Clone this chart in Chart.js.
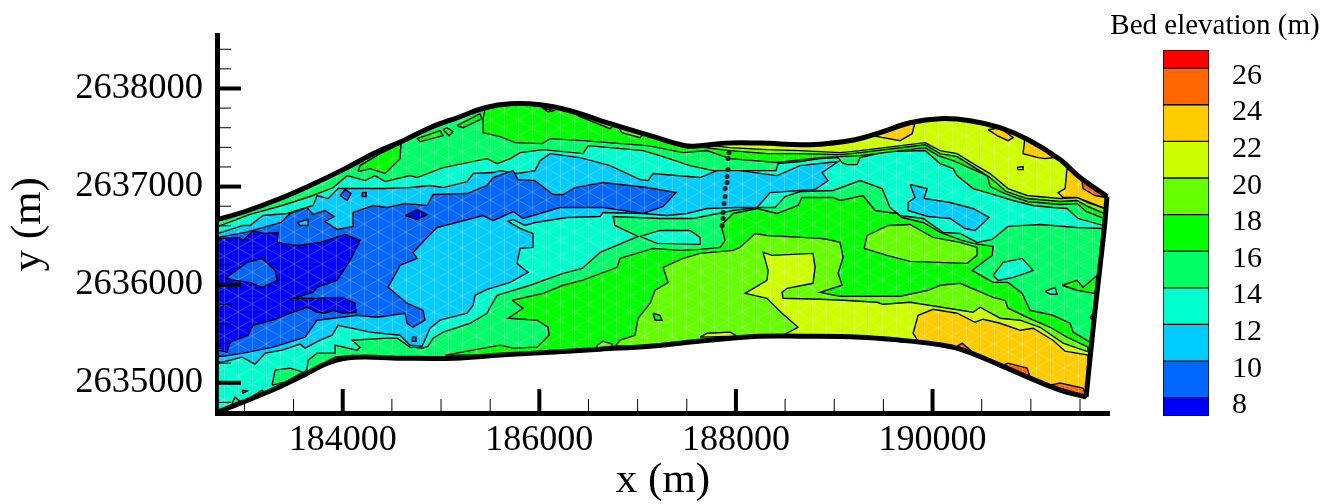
<!DOCTYPE html>
<html>
<head>
<meta charset="utf-8">
<title>Bed elevation</title>
<script src="https://cdn.jsdelivr.net/npm/chart.js@4/dist/chart.umd.min.js"></script>
<style>
  body { margin: 0; background: #fff; }
  #wrap { position: relative; width: 1340px; height: 504px; overflow: hidden; }
  #mapChart { position: absolute; left: 0; top: 0; }
  #barChart { position: absolute; left: 1095px; top: 0; }
</style>
</head>
<body>
<div id="wrap">
  <canvas id="mapChart" width="1340" height="504"></canvas>
  <canvas id="barChart" width="240" height="430"></canvas>
</div>
<script>
// ===== Axis ticks =====
const xMajorTicks = [184000, 186000, 188000, 190000];
const xMinorTicks = [183000, 183500, 184500, 185000, 185500, 186500, 187000, 187500, 188500, 189000, 189500, 190500, 191000, 191500];
const yMajorTicks = [2635000, 2636000, 2637000, 2638000];
const yMinorTicks = [2634800, 2635200, 2635400, 2635600, 2635800, 2636200, 2636400, 2636600, 2636800, 2637200, 2637400, 2637600, 2637800, 2638200, 2638400];

// ===== Colour bar =====
const bandEdges = [7, 8, 10, 12, 14, 16, 18, 20, 22, 24, 26, 27];
const bandColors = ['#0000ff', '#0066ff', '#00ccff', '#00ffcc', '#00ff66', '#00ff00', '#66ff00', '#ccff00', '#ffcc00', '#ff6600', '#ff0000'];
const bandLabels = [8, 10, 12, 14, 16, 18, 20, 22, 24, 26];
const [c8, c10, c12, c14, c16, c18, c20, c22, c24, c26] = bandColors;

// ===== Model domain, x/y in metres =====
const domainOutline = [
  [182732,2636665],[183007,2636746],[183363,2636878],[183668,2637011],[184024,2637183],[184329,2637346],[184614,2637468],[184888,2637600],
  [185193,2637712],[185448,2637804],[185703,2637844],[186008,2637834],[186313,2637773],[186720,2637641],[187127,2637519],[187483,2637417],
  [187635,2637417],[187889,2637443],[188245,2637443],[188754,2637427],[189212,2637478],[189466,2637550],[189771,2637651],[190077,2637692],
  [190382,2637672],[190687,2637600],[190992,2637468],[191297,2637275],[191501,2637092],[191775,2636899],
  [191745,2636553],[191653,2635739],[191562,2634855],
  [191297,2634926],[190992,2635048],[190687,2635180],[190280,2635343],[190026,2635394],[189670,2635434],[189263,2635465],[188652,2635475],
  [188245,2635475],[187839,2635444],[187432,2635404],[187127,2635373],[186618,2635343],[186110,2635312],[185601,2635282],[185143,2635251],
  [184583,2635251],[184125,2635261],[183871,2635210],[183566,2635058],[183261,2634916],[182732,2634702]
];
const along = (from, to) => domainOutline.slice(from, to + 1);

// ===== Contour regions, painted lowest layer first =====
const region14Main = [
  [182732,2636594],[183057,2636716],[183383,2636807],[183668,2636899],[183902,2636990],[184045,2637112],[184227,2637061],[184329,2637112],
  [184431,2637051],[184685,2637112],[184756,2637092],[185021,2637194],[185468,2637285],[185570,2637234],[185703,2637285],[185804,2637346],
  [186038,2637377],[186445,2637336],[186496,2637417],[186720,2637397],[187055,2637367],[187228,2637316],[187533,2637214],[187767,2637163],
  [188408,2637163],[188428,2637234],[188652,2637255],[188856,2637285],[189039,2637295],[189080,2637244],[189130,2637224],[189232,2637224],
  [189263,2637295],[189537,2637356],[189924,2637367],[190077,2637234],[190209,2637184],[190250,2637112],[190412,2636980],[190555,2636939],
  [190820,2636858],[191023,2636807],[191226,2636787],[191368,2636777],[191480,2636675],[191735,2636604],
  [191735,2636573],[191470,2636583],[191094,2636614],[190768,2636594],[190606,2636461],[190453,2636431],[190280,2636522],[190107,2636533],
  [189904,2636675],[189670,2636705],[189568,2636787],[189487,2636980],[189263,2637061],[188988,2636960],[188652,2636950],[188500,2636899],
  [188398,2636787],[188215,2636787],[187971,2636756],[187564,2636675],[187228,2636675],[186750,2636695],[186770,2636604],[187004,2636492],
  [186618,2636329],[186435,2636166],[186241,2636116],[185906,2635994],[185601,2635902],[185570,2635892],[185499,2635770],[185468,2635709],
  [185295,2635607],[185021,2635516],[184919,2635455],[184868,2635373],[184817,2635353],[184685,2635363],[184553,2635455],[184451,2635455],
  [184095,2635434],[184176,2635363],[184146,2635333],[183922,2635384],[183922,2635302],[183739,2635302],[183647,2635231],[183637,2635140],
  ...along(52, 54)
];
const region14BlobA = [[187025,2636492],[187228,2636553],[187533,2636553],[187635,2636482],[187635,2636411],[187198,2636421]];
const region14BlobB = [[190616,2636095],[190718,2636227],[190911,2636268],[191023,2636146],[190941,2636116],[190820,2636075],[190667,2636044]];
const region14BlobC = [[191145,2635933],[191246,2635973],[191267,2635902],[191196,2635902]];

const region16PatchA = [[183281,2634976],[183312,2635129],[183464,2635149],[183596,2635109],[183413,2635007]];
const region16PatchB = [[182874,2634793],[182905,2634854],[182976,2634793],[183180,2634926],[183200,2634905],[182915,2634763]];
const region16PatchC = [[182976,2634926],[183027,2634916],[182986,2634895]];

const region18StripA = [[184156,2637153],[184176,2637214],[184380,2637336],[184593,2637438],[184583,2637285],[184431,2637133],[184278,2637183]];
const region18StripB = [[184756,2637489],[184990,2637570],[185021,2637519],[184787,2637458]];
const region18StripC = [[185021,2637580],[185082,2637519],[185122,2637560],[185062,2637600]];
const region18StripD = [[185163,2637621],[185397,2637743],[185417,2637692],[185224,2637600]];
const region18StripE = [[183841,2635220],[183922,2635261],[184105,2635282],[184125,2635261],[183871,2635210]];

const region12Main = [
  [182732,2636523],[182986,2636604],[183057,2636604],[183190,2636705],[183434,2636726],[183698,2636807],[183739,2636909],[183851,2636878],
  [183953,2636980],[184411,2636980],[184685,2636990],[184888,2637011],[185021,2636990],[185265,2637051],[185326,2637133],[185529,2637143],
  [185601,2637163],[185773,2637133],[185956,2637163],[186008,2637265],[186110,2637336],[186415,2637295],[186720,2637214],[187025,2637072],
  [187106,2637061],[187157,2637133],[187635,2637092],[187808,2637163],[188042,2637163],[188418,2637112],[188652,2637214],[189039,2637255],
  [188876,2637143],[188937,2637061],[188805,2636970],[188652,2636960],[188347,2636939],[188215,2636787],[188012,2636787],[187706,2636777],
  [187503,2636726],[187299,2636705],[187055,2636726],[186648,2636736],[186618,2636695],[186282,2636685],[185956,2636634],[185855,2636604],
  [185733,2636665],[185682,2636645],[185804,2636573],[185936,2636522],[185936,2636380],[185804,2636370],[185773,2636217],[185885,2636126],
  [185703,2636024],[185468,2635953],[185346,2635892],[185326,2635790],[185265,2635709],[184990,2635638],[184888,2635556],[184807,2635373],
  [184685,2635383],[184583,2635485],[184278,2635516],[183953,2635587],[183892,2635485],[183769,2635434],[183617,2635353],[183566,2635394],
  [183383,2635333],[183210,2635302],[183108,2635190],[182976,2635261],[182772,2635210],[182732,2635210]
];
const region12East = [
  [189771,2637021],[189944,2636980],[189914,2636878],[190178,2636838],[190412,2636777],[190575,2636685],[190433,2636553],[190331,2636573],
  [190178,2636675],[189955,2636695],[189751,2636756],[189751,2636838],[189822,2636888]
];

const region10Main = [
  [182732,2636482],[183007,2636533],[183373,2636634],[183464,2636726],[183637,2636787],[183698,2636716],[183820,2636756],[183912,2636695],
  [183820,2636644],[183942,2636563],[184105,2636594],[184105,2636736],[184308,2636807],[184451,2636787],[184634,2636827],[184858,2636807],
  [184919,2636919],[185265,2636929],[185468,2637011],[185529,2637092],[185733,2637163],[185784,2637072],[185956,2637061],[186140,2636919],
  [186241,2636919],[186363,2636990],[186648,2637041],[187096,2636990],[187391,2636939],[187259,2636797],[187055,2636726],[186648,2636787],
  [186211,2636787],[185834,2636675],[185733,2636746],[185601,2636685],[185529,2636655],[185428,2636705],[184960,2636583],[184858,2636482],
  [184715,2636329],[184756,2636268],[184583,2636197],[184461,2635973],[184654,2635811],[184817,2635739],[184837,2635638],[184715,2635566],
  [184654,2635607],[184634,2635709],[184349,2635668],[184146,2635689],[183739,2635638],[183617,2635465],[183291,2635363],[182986,2635302],
  [182782,2635271],[182732,2635271]
];
const region10DotA = [[183973,2636909],[184024,2636970],[184085,2636929],[184045,2636858]];
const region10DotB = [[184197,2636939],[184237,2636939],[184237,2636899],[184197,2636899]];
const region10DotC = [[184705,2635465],[184746,2635465],[184746,2635424],[184705,2635424]];
const region12Islet = [[183536,2636634],[183647,2636665],[183647,2636604],[183566,2636604]];

const region8Main = [
  [182732,2636472],[182956,2636482],[182986,2636451],[183088,2636553],[183190,2636522],[183342,2636533],[183332,2636431],[183536,2636400],
  [183769,2636431],[184024,2636512],[184176,2636451],[184075,2636248],[183942,2636044],[183739,2635973],[183698,2635922],[183495,2635861],
  [183698,2635861],[183993,2635871],[184125,2635811],[184136,2635719],[184003,2635709],[183902,2635739],[183820,2635709],[183739,2635719],
  [183637,2635770],[183464,2635709],[183291,2635638],[183088,2635587],[183037,2635485],[182854,2635414],[182823,2635312],[182732,2635333]
];
const region8Small = [[184634,2636705],[184756,2636766],[184858,2636716],[184756,2636665]];
const region10Island = [[182803,2636065],[183027,2636227],[183180,2636268],[183312,2636146],[183332,2636044],[183180,2635973],[183057,2636024],[182905,2636044]];

const region18Main = [
  [185723,2635841],[186038,2635912],[186241,2635994],[186435,2636044],[186791,2636177],[186821,2636268],[187157,2636370],[187432,2636350],
  [187635,2636360],[187839,2636380],[187889,2636451],[187849,2636604],[187971,2636726],[188215,2636777],[188418,2636726],[188632,2636807],
  [188672,2636889],[188988,2636889],[189059,2636858],[189293,2636909],[189415,2636756],[189639,2636726],[189690,2636685],[189904,2636634],
  [190077,2636533],[190301,2636451],[190412,2636421],[190616,2636390],[190606,2636299],[190402,2636146],[190616,2636024],[190768,2636024],
  [190911,2635912],[190992,2635739],[191226,2635688],[191399,2635607],[191430,2635516],[191602,2635414],
  ...along(32, 47),
  [185041,2635282],[185601,2635384],[185733,2635353],[185977,2635363],[186099,2635485],[186089,2635566],[185977,2635638],[185682,2635658],[185834,2635760]
];
const region18Top = [
  ...along(9, 29),
  [191745,2636675],[191562,2636746],[191470,2636827],[191297,2636817],[190962,2636848],[190738,2636929],[190585,2637000],[190555,2637112],
  [190209,2637265],[190057,2637316],[189924,2637397],[189263,2637316],[189059,2637305],[188856,2637295],[188418,2637245],[187940,2637285],
  [187706,2637367],[187462,2637346],[187208,2637397],[187096,2637417],[186445,2637468],[186110,2637489],[186028,2637438],[185753,2637448],
  [185601,2637509],[185428,2637550],[185428,2637692]
];
const region18RightA = [[191318,2635994],[191470,2636044],[191531,2635973],[191674,2636095],[191653,2635912],[191470,2635943]];
const region18RightB = [[191602,2635658],[191633,2635709],[191633,2635648]];

const region20Main = [
  [186770,2635373],[186821,2635434],[186974,2635485],[187004,2635658],[187127,2635811],[187177,2635943],[187310,2636024],[187259,2636177],
  [187462,2636268],[187635,2636319],[187971,2636350],[188042,2636380],[188195,2636522],[188316,2636502],[188856,2636472],[188937,2636461],
  [189059,2636431],[189090,2636278],[189039,2636116],[189080,2635994],[188856,2635922],[189059,2635882],[189670,2635882],[189955,2635943],
  [190077,2635994],[190280,2636014],[190616,2635871],[190738,2635841],[190768,2635760],[190962,2635668],[191196,2635566],[191368,2635465],[191582,2635363],
  ...along(32, 44)
];
const region20Top = [
  ...along(17, 29),
  [191745,2636726],[191582,2636797],[191470,2636858],[191297,2636848],[190962,2636878],[190748,2636950],[190585,2637092],[190412,2637204],
  [190250,2637305],[190077,2637336],[189924,2637427],[189263,2637346],[189059,2637326],[188652,2637336],[188316,2637336],[187940,2637367],[187686,2637397]
];
const region20Island = [[189304,2636370],[189334,2636502],[189548,2636604],[189771,2636614],[190005,2636482],[190280,2636431],[190453,2636380],[190453,2636299],[190351,2636217],[189771,2636238],[189537,2636299]];
const region20SmallA = [[186394,2637722],[186720,2637590],[186770,2637641],[186516,2637712]];
const region20SmallB = [[186791,2637621],[186842,2637550],[187025,2637499],[187055,2637539]];
const region20SmallC = [[186028,2637804],[186140,2637773],[186089,2637763]];
const region20SmallD = [[186587,2635383],[186648,2635424],[186740,2635394],[186740,2635353],[186587,2635343]];
const region18Hole = [[187157,2635709],[187228,2635688],[187248,2635638],[187177,2635638]];

const region22Main = [
  [188479,2635485],[188632,2635566],[188469,2635709],[188316,2635861],[188093,2635912],[188316,2636044],[188327,2636146],[188276,2636329],
  [188367,2636299],[188784,2636319],[188805,2636177],[188784,2636014],[188520,2635963],[188469,2635922],[188479,2635861],[188856,2635851],
  [189090,2635841],[189436,2635821],[189497,2635800],[189771,2635821],[190412,2635719],[190484,2635770],[190687,2635658],[190890,2635638],
  [191094,2635566],[191328,2635404],[191592,2635312],
  ...along(32, 40)
];
const region22Top = [
  ...along(17, 29),
  [191755,2636777],[191582,2636838],[191470,2636889],[191297,2636878],[190962,2636909],[190768,2636980],[190585,2637133],[190412,2637234],
  [190250,2637336],[190077,2637367],[189924,2637448],[189263,2637366],[189059,2637346],[188652,2637367],[188316,2637377],[187940,2637397],[187757,2637417]
];
const region22Small = [[187635,2635465],[187706,2635505],[187940,2635516],[188012,2635475]];

const region24Main = [
  [189802,2635505],[189853,2635688],[190005,2635749],[190250,2635709],[190433,2635617],[190514,2635648],[190687,2635607],[190890,2635536],
  [191023,2635556],[191226,2635434],[191348,2635322],[191582,2635282],
  ...along(32, 37),
  [189853,2635424]
];
const region24TopA = [[189385,2637519],[189670,2637468],[189792,2637539],[189822,2637651],[189619,2637600]];
const region24TopB = [[190565,2637580],[190657,2637519],[190768,2637468],[190820,2637499],[190687,2637600]];
const region24TopC = [[190941,2637509],[190921,2637336],[191074,2637295],[191145,2637285],[191226,2637295],[191094,2637407]];
const region24Corner = [[191368,2637184],[191348,2636980],[191277,2636939],[191328,2636889],[191470,2636889],[191755,2636777],[191775,2636899],[191501,2637092]];
const region24Dot = [[190860,2637194],[190921,2637204],[190921,2637173],[190870,2637173]];

const region26Corner = [[191521,2637061],[191531,2636980],[191653,2636909],[191765,2636888],[191633,2637011]];
const region26EdgeA = [[190250,2635373],[190301,2635404],[190433,2635292]];
const region26EdgeB = [[190718,2635180],[190768,2635200],[190962,2635149],[190992,2635058]];
const region26EdgeC = [[191196,2634976],[191297,2634997],[191531,2634946],[191562,2634865]];

// Survey points crossing the channel
const surveyPoints = [
  [187930,2637346],[187920,2637285],[187920,2637173],[187910,2637102],[187910,2637041],[187889,2636980],
  [187889,2636899],[187879,2636827],[187869,2636736],[187869,2636675],[187859,2636604]
];

const layers = [
  [domainOutline, c16],
  [region14Main, c14], [region14BlobA, c14], [region14BlobB, c14], [region14BlobC, c14],
  [region16PatchA, c16], [region16PatchB, c16], [region16PatchC, c16],
  [region18StripA, c18], [region18StripB, c18], [region18StripC, c18], [region18StripD, c18], [region18StripE, c18],
  [region12Main, c12], [region12East, c12],
  [region10Main, c10], [region10DotA, c10], [region10DotB, c10], [region10DotC, c10],
  [region12Islet, c12],
  [region8Main, c8], [region8Small, c8],
  [region10Island, c10],
  [region18Main, c18], [region18Top, c18], [region18RightA, c18], [region18RightB, c18],
  [region20Main, c20], [region20Top, c20], [region20Island, c20],
  [region20SmallA, c20], [region20SmallB, c20], [region20SmallC, c20], [region20SmallD, c20],
  [region18Hole, c18],
  [region22Main, c22], [region22Top, c22], [region22Small, c22],
  [region24Main, c24], [region24TopA, c24], [region24TopB, c24], [region24TopC, c24], [region24Corner, c24], [region24Dot, c24],
  [region26Corner, c26], [region26EdgeA, c26], [region26EdgeB, c26], [region26EdgeC, c26]
];

const toPoints = list => list.map(p => ({ x: p[0], y: p[1] }));
const closed = list => toPoints([...list, list[0]]);

// Band colour with the faint triangular mesh showing through
const meshCache = {};
function meshFill(color) {
  if (meshCache[color]) return meshCache[color];
  const tile = document.createElement('canvas');
  tile.width = 28;
  tile.height = 16;
  const t = tile.getContext('2d');
  t.fillStyle = color;
  t.fillRect(0, 0, 28, 16);
  t.strokeStyle = 'rgba(255,255,255,0.22)';
  t.lineWidth = 1;
  t.beginPath();
  t.moveTo(0.5, 0); t.lineTo(0.5, 16);
  t.moveTo(14.5, 0); t.lineTo(14.5, 16);
  t.moveTo(0, 0); t.lineTo(28, 16);
  t.moveTo(0, 16); t.lineTo(28, 0);
  t.stroke();
  meshCache[color] = t.createPattern(tile, 'repeat');
  return meshCache[color];
}

// Chart.js paints the highest "order" first, so count down through the layers
const datasets = layers.map(([points, color], i) => ({
  data: closed(points),
  showLine: true,
  fill: 'shape',
  backgroundColor: meshFill(color),
  borderColor: '#000',
  borderWidth: 1.4,
  pointRadius: 0,
  clip: false,
  order: layers.length - i + 4
}));
// Thick domain edge, one smooth run per side so the corners stay sharp
[along(0, 29), along(29, 32), along(32, 54)].forEach(run => {
  datasets.push({
    data: toPoints(run),
    showLine: true,
    fill: false,
    tension: 0.4,
    borderColor: '#000',
    borderWidth: 5,
    pointRadius: 0,
    clip: false,
    order: 2
  });
});
datasets.push({
  data: toPoints(surveyPoints),
  showLine: false,
  pointRadius: 2.5,
  pointBackgroundColor: '#222',
  pointBorderWidth: 0,
  order: 1
});

// Tecplot style ticks pointing into the plot
const inwardTicks = {
  id: 'inwardTicks',
  afterDatasetsDraw(chart) {
    const { ctx, chartArea, scales } = chart;
    const mark = (scale, values, length, width) => {
      ctx.lineWidth = width;
      values.forEach(v => {
        const p = scale.getPixelForValue(v);
        ctx.beginPath();
        if (scale.isHorizontal()) {
          ctx.moveTo(p, chartArea.bottom);
          ctx.lineTo(p, chartArea.bottom - length);
        } else {
          ctx.moveTo(chartArea.left, p);
          ctx.lineTo(chartArea.left + length, p);
        }
        ctx.stroke();
      });
    };
    ctx.save();
    ctx.strokeStyle = '#000';
    mark(scales.x, xMinorTicks, 14, 1);
    mark(scales.y, yMinorTicks, 14, 1);
    mark(scales.x, xMajorTicks, 24, 4);
    mark(scales.y, yMajorTicks, 24, 4);
    ctx.restore();
  }
};

Chart.defaults.font.family = '"Liberation Serif", serif';
Chart.defaults.color = '#000';
Chart.defaults.animation = false;

const majorTicksOf = list => scale => { scale.ticks = list.map(v => ({ value: v })); };

new Chart(document.getElementById('mapChart'), {
  type: 'scatter',
  data: { datasets },
  options: {
    responsive: false,
    layout: { padding: { top: 35, right: 231, left: 0, bottom: 0 } },
    plugins: { legend: { display: false }, tooltip: { enabled: false } },
    scales: {
      x: {
        type: 'linear',
        min: 182721,
        max: 191795,
        afterBuildTicks: majorTicksOf(xMajorTicks),
        afterFit: scale => { scale.height = 91; },
        grid: { display: false, drawTicks: false },
        border: { display: true, width: 5, color: '#000' },
        ticks: { font: { size: 36 }, padding: 6, maxRotation: 0, autoSkip: false, callback: v => String(v) },
        title: { display: true, text: 'x (m)', font: { size: 43, lineHeight: 1 }, padding: { top: 0, bottom: 2 } }
      },
      y: {
        type: 'linear',
        min: 2634692,
        max: 2638536,
        afterBuildTicks: majorTicksOf(yMajorTicks),
        afterFit: scale => { scale.width = 217; },
        grid: { display: false, drawTicks: false },
        border: { display: true, width: 5, color: '#000' },
        ticks: { font: { size: 36.5 }, padding: 14, autoSkip: false, callback: v => String(v) },
        title: { display: true, text: 'y (m)', font: { size: 43 }, padding: { top: 3, bottom: 0 } }
      }
    }
  },
  plugins: [inwardTicks]
});

// ===== Colour bar chart =====
new Chart(document.getElementById('barChart'), {
  type: 'bar',
  data: {
    labels: ['Bed elevation'],
    datasets: bandColors.map((color, i) => ({
      data: [[bandEdges[i], bandEdges[i + 1]]],
      backgroundColor: color,
      borderColor: '#000',
      borderWidth: 1,
      borderSkipped: false,
      grouped: false,
      barPercentage: 1,
      categoryPercentage: 1,
      yAxisID: 'yBand'
    }))
  },
  options: {
    responsive: false,
    layout: { padding: { bottom: 14 } },
    plugins: {
      legend: { display: false },
      tooltip: { enabled: false },
      title: { display: true, text: 'Bed elevation (m)', font: { size: 29, weight: 'normal' }, padding: { top: 9, bottom: 6 } }
    },
    scales: {
      x: { display: false },
      // no labels on this side, it only holds the bars away from the canvas edge
      yBand: {
        type: 'linear',
        axis: 'y',
        position: 'left',
        min: 7,
        max: 27,
        afterFit: scale => { scale.width = 68; scale.paddingTop = 0; scale.paddingBottom = 0; },
        grid: { display: false, drawTicks: false },
        border: { display: false },
        ticks: { display: false }
      },
      // same span as yBand, slid down a little because the labels sit under their level line
      yLabels: {
        type: 'linear',
        axis: 'y',
        position: 'right',
        min: 7.42,
        max: 27.42,
        afterBuildTicks: majorTicksOf(bandLabels),
        afterFit: scale => { scale.width = 126; scale.paddingTop = 0; scale.paddingBottom = 0; },
        grid: { display: false, drawTicks: false },
        border: { display: false },
        ticks: { font: { size: 30 }, padding: 23, autoSkip: false }
      }
    }
  }
});
</script>
</body>
</html>
